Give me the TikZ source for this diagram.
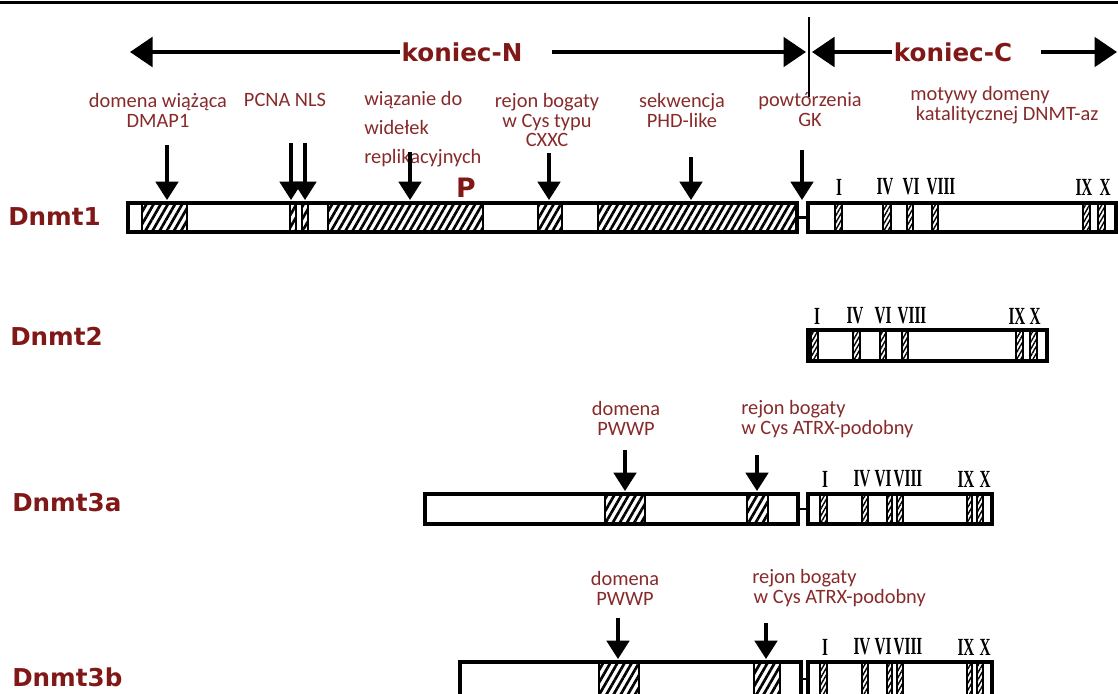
\documentclass[tikz,border=0pt]{standalone}
\usepackage{fontspec}
\setmainfont{Carlito}
\newfontfamily\headfont{DejaVu Sans}
\newfontfamily\romfont[FakeStretch=0.62]{Liberation Serif}
\usetikzlibrary{arrows.meta, positioning, patterns.meta}
\definecolor{dnmtred}{RGB}{128,24,24}
\definecolor{lblred}{RGB}{135,42,42}

\begin{document}
\begin{tikzpicture}[x=0.025cm, y=-0.025cm,
    lbl/.style={font=\fontsize{14.5}{14.2}\selectfont, text=lblred, inner sep=0pt, align=center},
    prot/.style={font=\headfont\bfseries\fontsize{17.5}{17.5}\selectfont, text=dnmtred, inner sep=0pt, anchor=west},
    endlbl/.style={font=\headfont\bfseries\fontsize{17.5}{17.5}\selectfont, text=dnmtred, inner sep=1pt},
    rom/.style={font=\romfont\bfseries\fontsize{17.5}{17.5}\selectfont, inner sep=0pt},
    bigarr/.style={-{Triangle[length=16pt,width=21pt]}, line width=2.6pt},
    ptr/.style={-{Triangle[length=13pt,width=16pt]}, line width=2.2pt},
    barbox/.style={draw, line width=2.4pt, fill=white},
    barline/.style={draw, line width=2.4pt},
    hatched/.style={draw, line width=2pt, pattern={Lines[angle=60,distance=4.4pt,line width=1.9pt]}},
    motif/.style={draw, line width=2pt, pattern={Lines[angle=60,distance=2.5pt,line width=1pt]}}]

\useasboundingbox (0,0) rectangle (1118,693);
\clip (0,0) rectangle (1118,693);

% top rule
\draw[line width=2pt] (0,2.5) -- (1118,2.5);

% N- and C-terminal ends
\node[endlbl] (kN) at (462,52) {koniec-N};
\node[endlbl] (kC) at (953,52) {koniec-C};
\coordinate (nTip) at (130,52);
\coordinate (nRun) at (552,52);
\coordinate (nMid) at (806,52);
\coordinate (cMid) at (812,52);
\coordinate (cRun) at (1041,52);
\coordinate (cTip) at (1117,52);
\coordinate (divTop) at (809,17);
\coordinate (divBot) at (809,97);
\draw[bigarr] (kN.west) -- (nTip);
\draw[bigarr] (nRun) -- (nMid);
\draw[bigarr] (kC.west) -- (cMid);
\draw[bigarr] (cRun) -- (cTip);
\draw[line width=1.6pt] (divTop) -- (divBot);

% protein names
\node[prot] (dnmt1) at (8,217) {Dnmt1};
\node[prot] (dnmt2) at (10,336) {Dnmt2};
\node[prot] (dnmt3a) at (12,503) {Dnmt3a};
\node[prot] (dnmt3b) at (12,677) {Dnmt3b};

% Dnmt1 domains
\node[lbl] (dmap) at (158,110) {domena wiążąca\\DMAP1};
\node[lbl] (pcna) at (285,100) {PCNA NLS};
\node[lbl, align=left, anchor=west, font=\fontsize{14.5}{20.6}\selectfont] (repl) at (364,129) {wiązanie do\\widełek\\replikacyjnych};
\node[lbl] (cxxc) at (547,120) {rejon bogaty\\w Cys typu\\CXXC};
\node[lbl] (phd) at (682,110) {sekwencja\\PHD-like};
\node[lbl] (gk) at (810,110) {powtórzenia\\GK};
\node[lbl, align=left, anchor=west] (motyw) at (910,105) {motywy domeny\\\hspace{4pt}katalitycznej DNMT-az};
\node[endlbl, font=\headfont\bfseries\fontsize{19}{19}\selectfont] (phos) at (466,188) {P};

\draw[barbox] (128,203) rectangle (797,232);
\foreach \a/\b in {142/187, 290/296, 302/308, 328/483, 538/562, 598/797}
    \draw[hatched] (\a,203) rectangle (\b,232);
\draw[barline] (128,203) rectangle (797,232);
\draw[line width=1.6pt] (797,217.5) -- (808,217.5);
\draw[barbox] (808,203) rectangle (1116,232);
\foreach \a/\b in {835/842, 883/891, 907/913, 932/938, 1083/1090, 1098/1105}
    \draw[motif] (\a,203) rectangle (\b,232);
\foreach \r/\x in {I/839, IV/885, VI/911, VIII/941, IX/1084, X/1105}
    \node[rom] (m1\r) at (\x,187) {\r};

\foreach \n/\x/\y in {dmap/167/145, pcnaA/291/143, pcnaB/305/143, repl/410/152, cxxc/549/153, phd/691/157, gk/802/150} {
    \coordinate (\n-s) at (\x,\y);
    \coordinate (\n-e) at (\x,200);
    \draw[ptr] (\n-s) -- (\n-e);
}

% Dnmt2
\draw[barbox] (808,330) rectangle (1047,361);
\foreach \a/\b in {811/818, 853/860, 880/886, 902/908, 1016/1023, 1030/1037}
    \draw[motif] (\a,330) rectangle (\b,361);
\draw[barline] (808,330) rectangle (1047,361);
\foreach \r/\x in {I/817, IV/855, VI/883, VIII/912, IX/1017, X/1035}
    \node[rom] (m2\r) at (\x,316) {\r};

% Dnmt3a
\node[lbl] (pwwpA) at (626,418) {domena\\PWWP};
\node[lbl, align=left, anchor=west] (atrxA) at (741,419) {rejon bogaty\\w Cys ATRX-podobny};
\draw[barbox] (425,494) rectangle (798,524);
\foreach \a/\b in {605/645, 747/768}
    \draw[hatched] (\a,494) rectangle (\b,524);
\draw[barline] (425,494) rectangle (798,524);
\draw[line width=1.6pt] (798,509) -- (808,509);
\draw[barbox] (808,494) rectangle (992,524);
\foreach \a/\b in {820/827, 862/868, 887/892, 897/903, 967/972, 977/983}
    \draw[motif] (\a,494) rectangle (\b,524);
\draw[barline] (808,494) rectangle (992,524);
\foreach \r/\x in {I/825, IV/862, VI/883, VIII/908, IX/966, X/985}
    \node[rom] (m3\r) at (\x,479) {\r};
\foreach \n/\x/\y in {pwwpA/625/450, atrxA/757/455} {
    \coordinate (\n-s) at (\x,\y);
    \coordinate (\n-e) at (\x,491);
    \draw[ptr] (\n-s) -- (\n-e);
}

% Dnmt3b
\node[lbl] (pwwpB) at (625,588) {domena\\PWWP};
\node[lbl, align=left, anchor=west] (atrxB) at (752,588) {rejon bogaty\\\hspace{1pt}w Cys ATRX-podobny};
\draw[barbox] (460,662) rectangle (801,697);
\foreach \a/\b in {599/639, 754/780}
    \draw[hatched] (\a,662) rectangle (\b,697);
\draw[barline] (460,662) rectangle (801,697);
\draw[line width=1.6pt] (801,679) -- (808,679);
\draw[barbox] (808,662) rectangle (992,697);
\foreach \a/\b in {820/827, 862/868, 887/892, 897/903, 967/972, 977/983}
    \draw[motif] (\a,662) rectangle (\b,697);
\draw[barline] (808,662) rectangle (992,697);
\foreach \r/\x in {I/825, IV/862, VI/883, VIII/908, IX/966, X/985}
    \node[rom] (m4\r) at (\x,647) {\r};
\foreach \n/\x/\y in {pwwpB/618/618, atrxB/766/623} {
    \coordinate (\n-s) at (\x,\y);
    \coordinate (\n-e) at (\x,659);
    \draw[ptr] (\n-s) -- (\n-e);
}
\end{tikzpicture}
\end{document}
